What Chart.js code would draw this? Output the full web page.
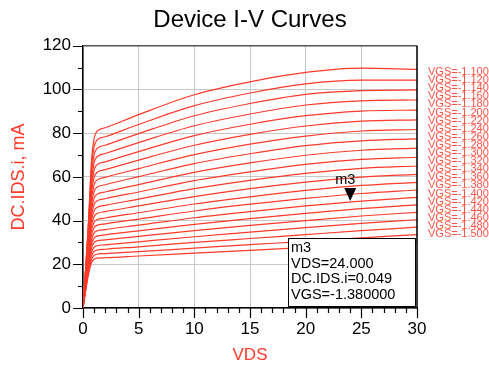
<!DOCTYPE html>
<html>
<head>
<meta charset="utf-8">
<script src="https://cdn.jsdelivr.net/npm/chart.js@4.4.0/dist/chart.umd.min.js"></script>
<style>
  html, body { margin: 0; padding: 0; background: #fff; }
  #wrap { width: 489px; height: 366px; }
</style>
</head>
<body>
<div id="wrap"><canvas id="myChart" width="489" height="366"></canvas></div>
<script>
//---------- data ----------
const vds = [0, 0.25, 0.5, 0.75, 1, 1.25, 2, 5, 10, 15, 20, 25, 30];
const vgs = ['-1.100','-1.120','-1.140','-1.160','-1.180','-1.200','-1.220','-1.240','-1.260','-1.280',
             '-1.300','-1.320','-1.340','-1.360','-1.380','-1.400','-1.420','-1.440','-1.460','-1.480','-1.500'];
// DC.IDS.i in mA, one row per VGS, same order as vgs
const idsByVgs = [
  [0,19.4,40.4,66.3,77.6,80.8,82.5,88.5,97.6,103.5,107.8,109.8,109.2],
  [0,18.9,39.1,63.3,73.8,76.8,78.4,84.0,92.6,98.4,102.6,104.3,104.3],
  [0,18.4,37.8,60.4,70.1,72.9,74.5,79.8,88.0,93.6,97.8,99.5,99.8],
  [0,17.9,36.5,57.6,66.6,69.2,70.7,75.7,83.4,88.8,92.9,94.8,95.2],
  [0,17.3,35.1,54.8,63.1,65.5,66.9,71.6,78.9,84.1,88.0,90.1,90.6],
  [0,16.7,33.8,52.1,59.8,62.0,63.3,67.7,74.5,79.5,83.3,85.5,86.1],
  [0,16.1,32.4,49.4,56.5,58.5,59.8,63.8,70.2,75.0,78.7,81.0,81.7],
  [0,15.6,31.1,46.8,53.4,55.2,56.4,60.1,66.1,70.6,74.3,76.5,77.4],
  [0,15.0,29.7,44.3,50.3,52.0,53.1,56.5,62.1,66.4,69.9,72.2,73.2],
  [0,14.4,28.5,41.9,47.5,49.0,50.0,53.1,58.3,62.3,65.7,68.0,69.0],
  [0,13.8,27.1,39.6,44.6,46.0,47.0,49.8,54.6,58.4,61.6,63.9,65.0],
  [0,13.2,25.9,37.3,41.9,43.2,44.1,46.7,51.0,54.6,57.6,59.9,61.2],
  [0,12.6,24.6,35.1,39.3,40.4,41.2,43.6,47.6,50.9,53.8,56.1,57.5],
  [0,12.0,23.3,33.0,36.8,37.8,38.5,40.7,44.4,47.5,50.2,52.4,54.0],
  [0,11.4,22.1,30.9,34.4,35.3,35.9,37.9,41.3,44.1,46.7,48.9,50.6],
  [0,10.9,20.9,29.0,32.1,32.9,33.5,35.3,38.3,40.9,43.3,45.5,47.2],
  [0,10.3,19.8,27.1,30.0,30.7,31.2,32.8,35.4,37.8,40.0,42.1,43.8],
  [0,9.7,18.6,25.3,27.8,28.5,28.9,30.3,32.6,34.7,36.8,38.7,40.4],
  [0,9.2,17.5,23.6,25.9,26.5,26.9,28.0,30.0,31.8,33.6,35.4,37.0],
  [0,8.7,16.5,22.0,24.1,24.6,24.9,25.8,27.4,29.0,30.5,32.1,33.6],
  [0,8.2,15.5,20.5,22.3,22.8,23.0,23.8,25.1,26.4,27.7,29.0,30.4]
];
// marker m3
const markerName = 'm3';
const markerVds = 24;
const markerIds = 49;      // mA
const markerVgs = '-1.380000';

//---------- styles ----------
const lineRed = '#ff3a2a';
const labelRed = '#ff5446';
const fontFam = '"Liberation Sans", Arial, sans-serif';

const datasets = idsByVgs.map((row, i) => ({
  label: 'VGS=' + vgs[i],
  data: row.map((v, k) => ({ x: vds[k], y: v })),
  borderColor: lineRed,
  borderWidth: 1.2,
  pointRadius: 0,
  fill: false,
  cubicInterpolationMode: 'monotone'
}));

// ticks, frame, trace labels, marker and readout box
const decorations = {
  id: 'decorations',
  afterDatasetsDraw(chart) {
    const { ctx, chartArea: a, scales: { x, y } } = chart;
    ctx.save();
    // marker triangle + name
    const mx = x.getPixelForValue(markerVds);
    const my = y.getPixelForValue(markerIds);
    ctx.fillStyle = '#000';
    ctx.beginPath();
    ctx.moveTo(mx, my);
    ctx.lineTo(mx - 6, my - 13);
    ctx.lineTo(mx + 6, my - 13);
    ctx.closePath();
    ctx.fill();
    ctx.font = '14.5px ' + fontFam;
    ctx.textAlign = 'center';
    ctx.textBaseline = 'middle';
    ctx.fillText(markerName, mx - 5, my - 21);

    // readout box
    const bx = 288, by = 238, bw = a.right - 2 - bx, bh = a.bottom - 2 - by;
    ctx.fillStyle = '#fff';
    ctx.fillRect(bx, by, bw, bh);
    ctx.strokeStyle = '#000';
    ctx.lineWidth = 1;
    ctx.strokeRect(bx + 0.5, by + 0.5, bw, bh);
    ctx.fillStyle = '#000';
    ctx.textAlign = 'left';
    const lines = [markerName, 'VDS=' + markerVds.toFixed(3),
      'DC.IDS.i=' + (markerIds / 1000).toFixed(3), 'VGS=' + markerVgs];
    lines.forEach((t, i) => ctx.fillText(t, bx + 3, by + 10 + i * 15.7));

    // frame top / right
    ctx.strokeStyle = '#555';
    ctx.lineWidth = 1.5;
    ctx.beginPath();
    ctx.moveTo(a.left, a.top);
    ctx.lineTo(a.right, a.top);
    ctx.stroke();
    ctx.strokeStyle = '#000';
    ctx.beginPath();
    ctx.moveTo(a.right, a.top);
    ctx.lineTo(a.right, a.bottom);
    ctx.stroke();

    // tick marks (major long, minor short)
    ctx.lineWidth = 1.2;
    ctx.beginPath();
    for (let v = x.min; v <= x.max; v += 1) {
      const px = Math.round(x.getPixelForValue(v)) + 0.5;
      const len = v % 5 === 0 ? 10 : 5;
      ctx.moveTo(px, a.bottom);
      ctx.lineTo(px, a.bottom + len);
    }
    for (let v = y.min; v <= y.max; v += 10) {
      const py = Math.round(y.getPixelForValue(v)) + 0.5;
      const len = v % 20 === 0 ? 10 : 5;
      ctx.moveTo(a.left, py);
      ctx.lineTo(a.left - len, py);
    }
    ctx.stroke();

    // trace labels on the right
    ctx.fillStyle = labelRed;
    ctx.font = '11px ' + fontFam;
    ctx.textAlign = 'left';
    vgs.forEach((g, i) => ctx.fillText('VGS=' + g, a.right + 11, 72 + i * 8.1));
    ctx.restore();
  }
};

const chart = new Chart(document.getElementById('myChart'), {
  type: 'line',
  data: { datasets: datasets },
  options: {
    responsive: false,
    animation: false,
    layout: { padding: { top: 0, right: 72, left: 0, bottom: 0 } },
    plugins: {
      legend: { display: false },
      tooltip: { enabled: false },
      title: {
        display: true,
        text: 'Device I-V Curves',
        color: '#000',
        fullSize: false,
        font: { family: fontFam, size: 24, weight: 'normal' },
        padding: { top: 6, bottom: 11 }
      }
    },
    scales: {
      x: {
        type: 'linear',
        min: 0,
        max: 30,
        ticks: { stepSize: 5, color: '#000', padding: 11, font: { family: fontFam, size: 17 } },
        grid: { color: '#c8c8c8', drawTicks: false },
        border: { color: '#000', width: 1.5 },
        title: { display: true, text: 'VDS', color: lineRed, font: { family: fontFam, size: 17 }, padding: { top: 0, bottom: 0 } },
        afterFit(s) { s.height = 58; }
      },
      y: {
        min: 0,
        max: 120,
        ticks: { stepSize: 20, color: '#000', padding: 12, font: { family: fontFam, size: 17 } },
        grid: { color: '#c8c8c8', drawTicks: false },
        border: { color: '#000', width: 1.5 },
        title: { display: true, text: 'DC.IDS.i, mA', color: lineRed, font: { family: fontFam, size: 18 }, padding: { top: 8, bottom: 0 } },
        afterFit(s) { s.width = 83; }
      }
    }
  },
  plugins: [decorations]
});
</script>
</body>
</html>
